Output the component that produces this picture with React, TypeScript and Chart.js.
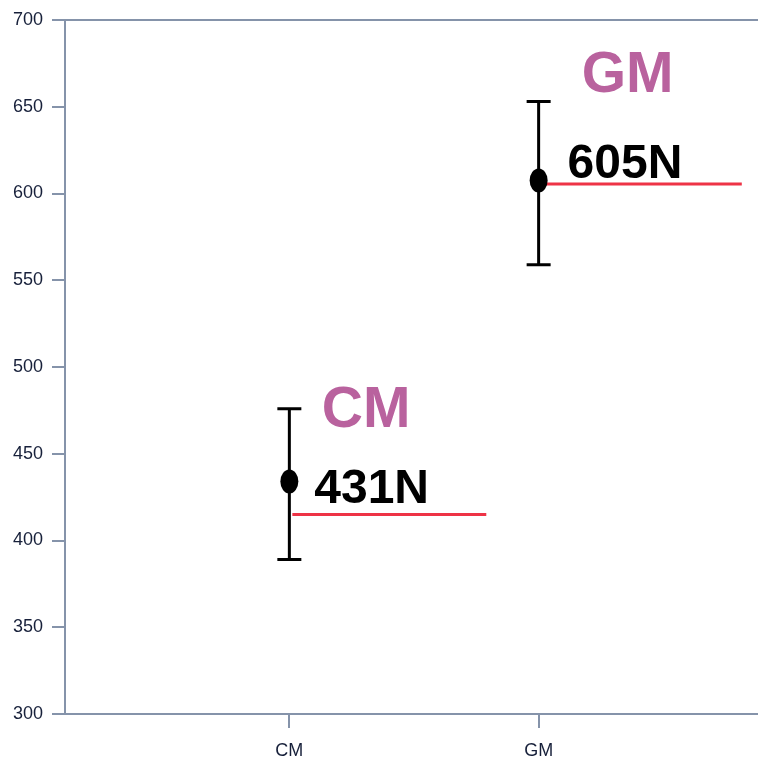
import React, { useEffect, useRef } from "react";
import { Chart, registerables } from "chart.js";

Chart.register(...registerables);

const categories = ["CM", "GM"];
const categoryPos = [1, 2];
const means = [434, 607.5];
const lowers = [389, 559];
const uppers = [476, 653];
const refValues = [415, 605.5];
const refStart = [1.012, 2.024];
const refEnd = [1.79, 2.815];
const valueLabels = ["431N", "605N"];
const valueLabelX = [1.1, 2.116];
const valueLabelY = [421.6, 608.9];
const groupLabels = ["CM", "GM"];
const groupLabelX = [1.13, 2.173];
const groupLabelY = [465.4, 658.5];
const yTickValues = [300, 350, 400, 450, 500, 550, 600, 650, 700];

const AXIS_COLOR = "#8593aa";
const TEXT_COLOR = "#17203a";
const PINK = "#b9629e";

const overlayPlugin = {
  id: "overlay",
  beforeDatasetsDraw(chart: any) {
    const { ctx, chartArea } = chart;
    ctx.save();
    ctx.strokeStyle = AXIS_COLOR;
    ctx.lineWidth = 2;
    ctx.beginPath();
    ctx.moveTo(chartArea.left, chartArea.top);
    ctx.lineTo(chartArea.right, chartArea.top);
    ctx.stroke();
    ctx.restore();
  },
  afterDatasetsDraw(chart: any) {
    const { ctx } = chart;
    const xs = chart.scales.x;
    const ys = chart.scales.y;
    ctx.save();
    categoryPos.forEach((c, i) => {
      const x = xs.getPixelForValue(c);
      const yLo = ys.getPixelForValue(lowers[i]);
      const yHi = ys.getPixelForValue(uppers[i]);
      const yM = ys.getPixelForValue(means[i]);
      ctx.strokeStyle = "#000";
      ctx.lineWidth = 3;
      ctx.beginPath();
      ctx.moveTo(x, yLo);
      ctx.lineTo(x, yHi);
      ctx.moveTo(x - 12, yLo);
      ctx.lineTo(x + 12, yLo);
      ctx.moveTo(x - 12, yHi);
      ctx.lineTo(x + 12, yHi);
      ctx.stroke();
      ctx.fillStyle = "#000";
      ctx.beginPath();
      ctx.ellipse(x, yM, 9, 12, 0, 0, Math.PI * 2);
      ctx.fill();
    });
    ctx.textAlign = "left";
    ctx.textBaseline = "alphabetic";
    valueLabels.forEach((t, i) => {
      ctx.fillStyle = "#000";
      ctx.font = "bold 48px 'Liberation Sans', Arial, sans-serif";
      ctx.fillText(t, xs.getPixelForValue(valueLabelX[i]), ys.getPixelForValue(valueLabelY[i]));
    });
    groupLabels.forEach((t, i) => {
      ctx.fillStyle = PINK;
      ctx.font = "bold 57px 'Liberation Sans', Arial, sans-serif";
      ctx.fillText(t, xs.getPixelForValue(groupLabelX[i]), ys.getPixelForValue(groupLabelY[i]));
    });
    ctx.restore();
  },
};

export default function App() {
  const ref = useRef<HTMLCanvasElement>(null);
  useEffect(() => {
    if (!ref.current) return;
    const datasets = refValues.map((v, i) => ({
      type: "scatter" as const,
      label: "ref " + categories[i],
      data: [
        { x: refStart[i], y: v },
        { x: refEnd[i], y: v },
      ],
      showLine: true,
      borderColor: "#ee3346",
      borderWidth: 3,
      pointRadius: 0,
      fill: false,
    }));
    const chart = new Chart(ref.current, {
      type: "scatter",
      data: { datasets },
      options: {
        animation: false,
        responsive: false,
        layout: { padding: { top: 20, left: 0, right: 0, bottom: 0 } },
        plugins: { legend: { display: false }, tooltip: { enabled: false } },
        scales: {
          x: {
            type: "linear",
            min: 0.1,
            max: 2.88,
            afterBuildTicks(scale: any) {
              scale.ticks = categoryPos.map((v) => ({ value: v }));
            },
            afterFit(scale: any) {
              scale.height = 47;
            },
            ticks: {
              callback: (v: any) => {
                const idx = categoryPos.indexOf(Number(v));
                return idx >= 0 ? categories[idx] : "";
              },
              color: TEXT_COLOR,
              font: { family: "'Liberation Sans', Arial, sans-serif", size: 18 },
              padding: 12,
              maxRotation: 0,
              autoSkip: false,
            },
            grid: {
              drawOnChartArea: false,
              color: AXIS_COLOR,
              lineWidth: 2,
              tickLength: 14,
            },
            border: { color: AXIS_COLOR, width: 2 },
          },
          y: {
            type: "linear",
            min: 300,
            max: 700,
            afterBuildTicks(scale: any) {
              scale.ticks = yTickValues.map((v) => ({ value: v }));
            },
            afterFit(scale: any) {
              scale.width = 65;
            },
            ticks: {
              color: TEXT_COLOR,
              font: { family: "'Liberation Sans', Arial, sans-serif", size: 18 },
              padding: 9,
            },
            grid: {
              drawOnChartArea: false,
              color: AXIS_COLOR,
              lineWidth: 2,
              tickLength: 13,
            },
            border: { color: AXIS_COLOR, width: 2 },
          },
        },
      },
      plugins: [overlayPlugin],
    });
    return () => chart.destroy();
  }, []);
  return (
    <div style={{ position: "fixed", left: 0, top: 0, width: 758, height: 761, background: "#fff" }}>
      <canvas ref={ref} width={758} height={761} />
    </div>
  );
}
